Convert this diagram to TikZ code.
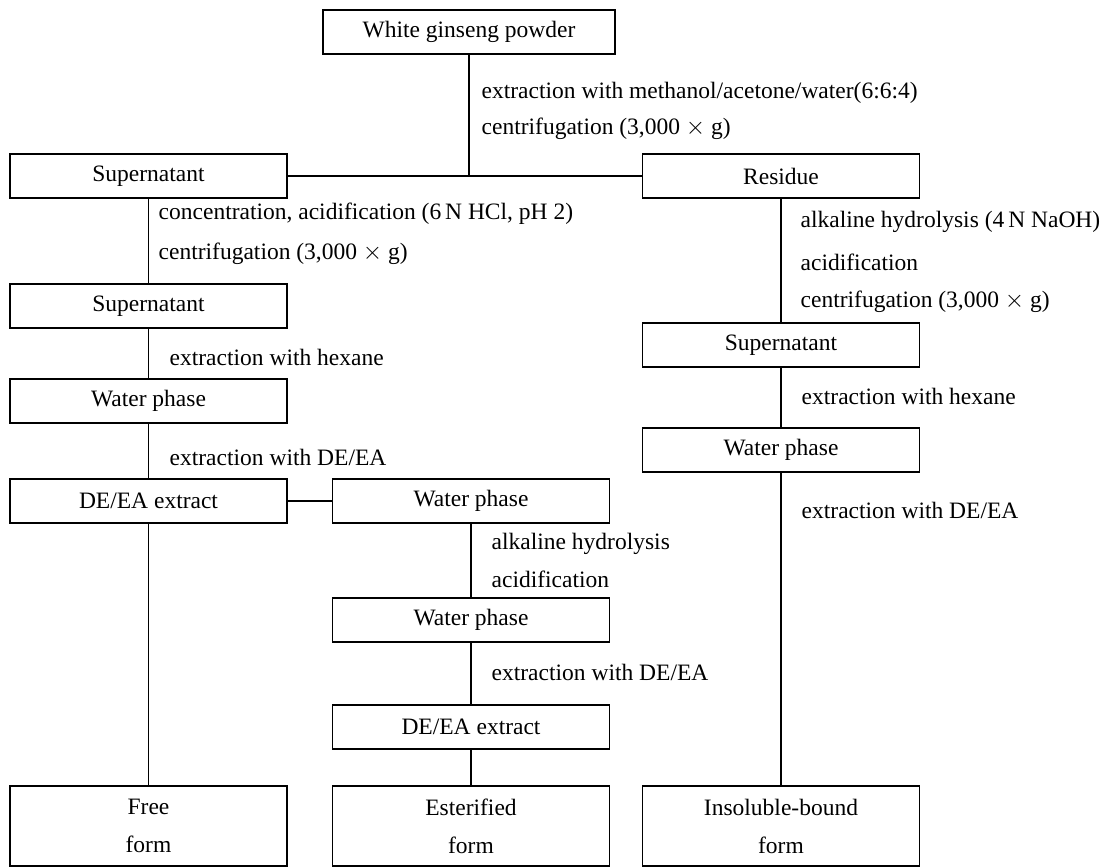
\documentclass[tikz,border=0pt]{standalone}
\usepackage{fontspec}
\setmainfont{Liberation Serif}
\begin{document}
\begin{tikzpicture}[x=1pt, y=-1pt, line width=1.4pt,
	stage/.style={draw, minimum width=277pt, minimum height=44pt, inner sep=0pt, font=\fontsize{23.5}{28}\selectfont},
	form/.style={stage, minimum height=80pt, align=center, font=\fontsize{23.5}{38}\selectfont},
	note/.style={anchor=west, inner sep=0pt, font=\fontsize{23.5}{28}\selectfont}]
	\useasboundingbox (0,0) rectangle (1103,867);

	\node[stage, minimum width=292pt] (powder) at (469,32) {White ginseng powder};
	\node[note] (n-extract) at (481,93) {extraction with methanol/acetone/water(6:6:4)};
	\node[note] (n-centri) at (481,129) {centrifugation (3,000 $\times$ g)};

	\node[stage] (super-left) at (148.5,176) {Supernatant};
	\node[stage] (residue) at (781,176) {Residue};
	\coordinate (split) at (powder.south |- super-left);

	\draw (powder) -- (split);
	\draw (super-left) -- (residue);

	% free form branch
	\node[note] (n-acid) at (158,214) {concentration, acidification (6\,N HCl, pH 2)};
	\node[note] (n-centri-left) at (158,254) {centrifugation (3,000 $\times$ g)};
	\node[stage] (super-left-2) at (148.5,306) {Supernatant};
	\node[note] (n-hexane-left) at (169,357) {extraction with hexane};
	\node[stage] (water-left) at (148.5,401) {Water phase};
	\node[note] (n-deea-left) at (169,457) {extraction with DE/EA};
	\node[stage] (deea-left) at (148.5,501) {DE/EA extract};
	\node[form] (free) at (148.5,826) {Free\\form};

	\draw (super-left) -- (super-left-2);
	\draw (super-left-2) -- (water-left);
	\draw (water-left) -- (deea-left);
	\draw (deea-left) -- (free);

	% esterified branch
	\node[stage] (water-mid) at (471,501) {Water phase};
	\node[note] (n-alkaline-mid) at (491,544) {alkaline hydrolysis};
	\node[note] (n-acid-mid) at (491,579) {acidification};
	\node[stage] (water-mid-2) at (471,620) {Water phase};
	\node[note] (n-deea-mid) at (491,672) {extraction with DE/EA};
	\node[stage] (deea-mid) at (471,727) {DE/EA extract};
	\node[form] (esterified) at (471,826) {Esterified\\form};

	\draw (deea-left) -- (water-mid);
	\draw (water-mid) -- (water-mid-2);
	\draw (water-mid-2) -- (deea-mid);
	\draw (deea-mid) -- (esterified);

	% insoluble-bound branch
	\node[note] (n-alkaline-right) at (800,222) {alkaline hydrolysis (4\,N NaOH)};
	\node[note] (n-acid-right) at (800,262) {acidification};
	\node[note] (n-centri-right) at (800,302) {centrifugation (3,000 $\times$ g)};
	\node[stage] (super-right) at (781,345) {Supernatant};
	\node[note] (n-hexane-right) at (801,396) {extraction with hexane};
	\node[stage] (water-right) at (781,450) {Water phase};
	\node[note] (n-deea-right) at (801,510) {extraction with DE/EA};
	\node[form] (insoluble) at (781,826) {Insoluble-bound\\form};

	\draw (residue) -- (super-right);
	\draw (super-right) -- (water-right);
	\draw (water-right) -- (insoluble);
\end{tikzpicture}
\end{document}
